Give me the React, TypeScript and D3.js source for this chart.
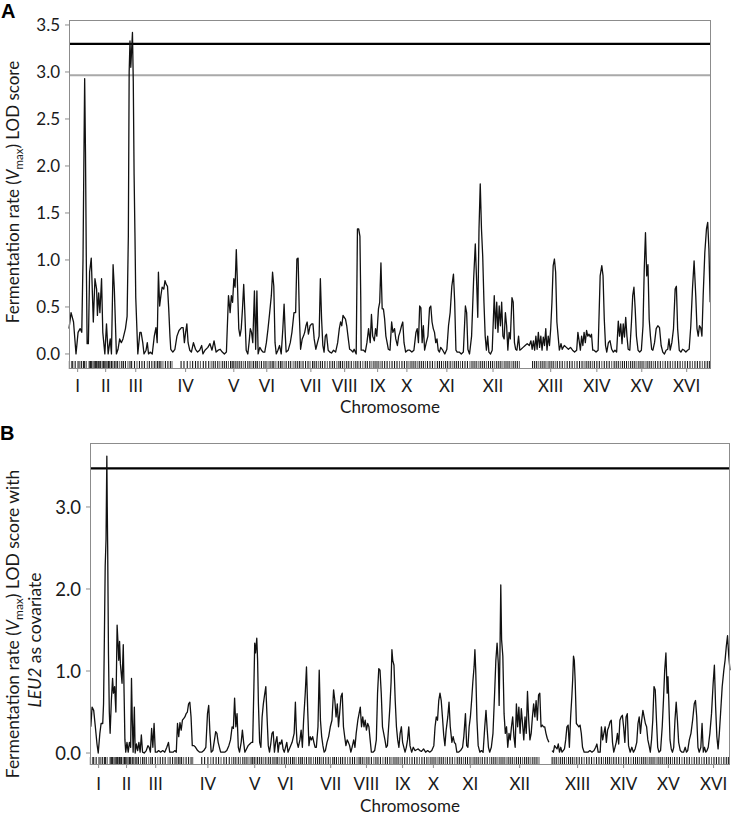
import React from 'react';
import * as d3 from 'd3';

const chromosomes = ['I', 'II', 'III', 'IV', 'V', 'VI', 'VII', 'VIII', 'IX', 'X', 'XI', 'XII', 'XIII', 'XIV', 'XV', 'XVI'];
// chromosome label positions on the genome map axis (map units)
const chromTicksA = [24, 92, 165, 286, 403, 483, 590, 672, 752, 823, 920, 1032, 1172, 1284, 1393, 1502];
const chromTicksB = [24, 92, 163, 290, 404, 479, 589, 676, 764, 839, 929, 1049, 1190, 1302, 1411, 1521];

const yTicksA = [0, 0.5, 1.0, 1.5, 2.0, 2.5, 3.0, 3.5];
const yTicksB = [0, 1, 2, 3];

const thresholdA999 = 3.30;
const thresholdA95 = 2.965;
const thresholdB = 3.47;

// genotyped marker positions (rug)
const markers = [4, 9, 12, 18, 25, 29, 33, 38, 41, 45, 52, 55, 58, 61, 64, 67, 70, 72, 75, 78, 80, 84, 87, 90, 93, 96, 99, 102, 106, 109, 113, 117, 121, 126, 131, 135, 140, 146, 151, 155, 162, 168, 174, 180, 186, 193, 198, 204, 210, 214, 218, 222, 226, 231, 237, 243, 249, 253, 275, 282, 290, 297, 303, 310, 316, 322, 329, 335, 342, 348, 353, 358, 364, 369, 375, 380, 385, 390, 395, 399, 403, 407, 411, 416, 421, 426, 431, 437, 442, 447, 451, 456, 460, 465, 470, 476, 481, 486, 491, 496, 500, 505, 511, 516, 520, 525, 530, 536, 541, 547, 552, 557, 562, 566, 571, 577, 583, 588, 594, 598, 603, 608, 613, 618, 624, 630, 636, 642, 647, 653, 658, 662, 667, 672, 677, 682, 688, 694, 699, 704, 710, 716, 722, 727, 733, 738, 743, 748, 753, 758, 763, 769, 775, 781, 787, 793, 799, 805, 811, 817, 823, 828, 833, 838, 843, 848, 853, 858, 863, 868, 873, 879, 885, 891, 897, 902, 907, 912, 917, 922, 928, 933, 938, 943, 948, 953, 958, 964, 970, 976, 981, 986, 991, 996, 1001, 1006, 1011, 1016, 1021, 1026, 1031, 1036, 1041, 1046, 1051, 1056, 1061, 1066, 1071, 1076, 1081, 1086, 1091, 1096, 1128, 1133, 1138, 1143, 1148, 1153, 1158, 1163, 1168, 1173, 1178, 1183, 1188, 1194, 1200, 1206, 1212, 1218, 1224, 1230, 1236, 1242, 1248, 1253, 1258, 1263, 1268, 1273, 1278, 1284, 1290, 1296, 1302, 1308, 1314, 1320, 1326, 1331, 1336, 1341, 1346, 1351, 1356, 1361, 1366, 1371, 1376, 1381, 1386, 1391, 1396, 1401, 1406, 1411, 1416, 1421, 1426, 1432, 1438, 1444, 1450, 1456, 1462, 1468, 1474, 1480, 1486, 1492, 1498, 1504, 1510, 1516, 1522, 1528, 1534, 1540, 1546, 1552, 1557];

// Panel A: LOD score for fermentation rate (Vmax) along the genome
const lodA: [number, number][] = [[3,0.27],[8,0.44],[14,0.34],[20,0.0],[25,0.23],[30,0.27],[34,0.23],[37,1.0],[39,2.0],[41,2.93],[43,2.15],[45,1.0],[47,0.11],[50,0.11],[53,0.87],[57,1.02],[62,0.34],[66,0.80],[70,0.69],[72,0.41],[75,0.65],[78,0.44],[82,0.80],[85,0.23],[90,0.0],[94,0.32],[98,0.0],[103,0.16],[106,0.0],[110,0.95],[113,0.69],[118,0.0],[122,0.05],[126,0.16],[130,0.12],[134,0.16],[140,0.27],[144,0.4],[147,1.25],[149,3.0],[151,3.33],[153,3.05],[157,3.42],[159,2.9],[161,1.9],[163,1.29],[165,0.6],[170,0.0],[175,0.23],[178,0.23],[182,0.12],[185,0.0],[190,0.04],[193,0.12],[196,0.0],[200,0.02],[205,0.0],[210,0.19],[214,0.28],[217,0.12],[220,0.87],[223,0.51],[226,0.62],[229,0.71],[233,0.69],[236,0.78],[239,0.74],[242,0.72],[245,0.48],[248,0.19],[250,0.05],[255,0.02],[260,0.05],[265,0.19],[270,0.25],[276,0.28],[280,0.28],[283,0.12],[286,0.23],[289,0.32],[292,0.12],[296,0.04],[300,0.02],[305,0.12],[310,0.05],[315,0.02],[320,0.04],[325,0.09],[328,0.0],[333,0.04],[340,0.07],[345,0.11],[350,0.04],[355,0.14],[360,0.02],[365,0.04],[370,0.05],[375,0.02],[380,0.0],[385,0.02],[390,0.62],[394,0.44],[397,0.62],[400,0.55],[403,0.80],[406,0.71],[409,1.11],[412,0.72],[415,0.27],[418,0.19],[421,0.27],[424,0.48],[427,0.74],[430,0.41],[433,0.04],[437,0.0],[440,0.12],[443,0.27],[446,0.23],[449,0.12],[453,0.67],[456,0.05],[459,0.67],[462,0.0],[466,0.07],[470,0.04],[474,0.02],[478,0.02],[482,0.12],[486,0.27],[490,0.44],[494,0.62],[497,0.87],[500,0.72],[503,0.12],[506,0.0],[510,0.04],[514,0.09],[518,0.0],[522,0.27],[525,0.53],[528,0.19],[530,0.02],[535,0.04],[540,0.12],[544,0.23],[549,0.44],[553,0.44],[556,1.01],[559,1.02],[562,0.41],[565,0.05],[569,0.16],[572,0.19],[575,0.23],[578,0.30],[581,0.34],[584,0.21],[588,0.30],[592,0.32],[595,0.32],[598,0.16],[602,0.05],[606,0.12],[610,0.19],[613,0.80],[616,0.37],[619,0.09],[622,0.02],[625,0.19],[628,0.21],[632,0.04],[636,0.02],[640,0.01],[645,0.04],[650,0.02],[655,0.12],[659,0.27],[662,0.34],[665,0.30],[668,0.41],[671,0.39],[674,0.37],[677,0.30],[680,0.19],[684,0.05],[688,0.04],[692,0.02],[695,0.05],[700,0.0],[703,1.33],[706,1.33],[709,1.25],[711,0.6],[712,0.04],[718,0.04],[722,0.02],[726,0.12],[730,0.27],[734,0.12],[737,0.42],[740,0.19],[744,0.14],[747,0.27],[750,0.19],[754,0.48],[757,0.55],[760,0.97],[763,0.48],[766,0.48],[769,0.37],[772,0.19],[775,0.12],[778,0.05],[782,0.04],[786,0.34],[789,0.23],[793,0.27],[796,0.16],[800,0.09],[803,0.19],[806,0.23],[810,0.30],[813,0.34],[816,0.12],[820,0.02],[825,0.04],[830,0.04],[835,0.02],[840,0.04],[845,0.23],[848,0.27],[851,0.12],[854,0.51],[857,0.49],[860,0.12],[863,0.30],[866,0.04],[870,0.12],[874,0.19],[878,0.49],[881,0.51],[884,0.34],[887,0.27],[890,0.23],[893,0.12],[896,0.16],[899,0.04],[902,0.02],[905,0.07],[910,0.04],[915,0.0],[920,0.05],[924,0.30],[928,0.44],[932,0.72],[936,0.85],[939,0.55],[942,0.04],[945,0.02],[950,0.02],[955,0.0],[960,0.02],[965,0.51],[968,0.44],[971,0.05],[975,0.0],[980,0.19],[985,0.80],[989,1.17],[992,0.80],[995,0.39],[998,1.33],[1001,1.81],[1004,1.33],[1007,1.04],[1010,0.55],[1013,0.19],[1016,0.04],[1019,0.19],[1022,0.02],[1026,0.0],[1030,0.04],[1035,0.62],[1038,0.27],[1041,0.55],[1044,0.23],[1047,0.51],[1050,0.30],[1053,0.55],[1056,0.19],[1059,0.16],[1062,0.44],[1065,0.30],[1068,0.04],[1071,0.23],[1074,0.16],[1078,0.60],[1081,0.55],[1084,0.12],[1087,0.05],[1090,0.04],[1094,0.19],[1097,0.04],[1100,0.05],[1105,0.07],[1110,0.09],[1115,0.11],[1120,0.09],[1124,0.14],[1127,0.05],[1130,0.14],[1133,0.04],[1136,0.19],[1139,0.05],[1142,0.23],[1145,0.07],[1148,0.19],[1151,0.04],[1154,0.18],[1157,0.09],[1160,0.27],[1163,0.04],[1166,0.19],[1169,0.09],[1172,0.27],[1175,0.55],[1178,0.94],[1181,1.01],[1184,0.87],[1187,0.34],[1190,0.19],[1193,0.04],[1197,0.11],[1200,0.05],[1205,0.09],[1210,0.07],[1215,0.05],[1220,0.07],[1225,0.04],[1230,0.02],[1235,0.04],[1238,0.23],[1241,0.14],[1244,0.04],[1247,0.19],[1250,0.09],[1253,0.23],[1256,0.12],[1259,0.25],[1262,0.19],[1265,0.21],[1268,0.18],[1271,0.21],[1274,0.04],[1277,0.04],[1282,0.02],[1287,0.04],[1292,0.83],[1296,0.94],[1299,0.83],[1302,0.37],[1305,0.09],[1308,0.02],[1312,0.12],[1316,0.14],[1320,0.05],[1324,0.02],[1328,0.04],[1332,0.02],[1336,0.35],[1339,0.19],[1342,0.32],[1345,0.11],[1348,0.32],[1351,0.18],[1354,0.39],[1357,0.19],[1360,0.05],[1364,0.04],[1368,0.34],[1371,0.62],[1374,0.71],[1377,0.48],[1380,0.19],[1384,0.04],[1388,0.02],[1392,0.04],[1396,0.30],[1399,0.90],[1402,1.29],[1405,0.83],[1408,0.95],[1411,0.37],[1414,0.19],[1417,0.05],[1420,0.04],[1424,0.12],[1428,0.27],[1432,0.30],[1436,0.28],[1440,0.09],[1444,0.02],[1448,0.0],[1452,0.04],[1456,0.05],[1459,0.16],[1462,0.04],[1466,0.12],[1470,0.27],[1474,0.69],[1477,0.72],[1480,0.27],[1484,0.04],[1488,0.02],[1492,0.05],[1496,0.04],[1500,0.02],[1504,0.04],[1508,0.05],[1512,0.30],[1516,0.69],[1520,0.99],[1524,0.62],[1527,0.27],[1530,0.19],[1533,0.30],[1536,0.28],[1539,0.19],[1542,0.62],[1546,1.08],[1550,1.33],[1553,1.40],[1556,1.11],[1559,0.55]];

// Panel B: LOD score with LEU2 as covariate (null = no data)
const lodB: [number, number | null][] = [[5,0.32],[8,0.56],[12,0.52],[16,0.32],[20,0.11],[23,0.0],[27,0.24],[30,0.36],[34,0.36],[36,0.6],[38,1.4],[40,2.28],[42,2.6],[44,3.62],[45,3.0],[46,2.52],[48,1.2],[50,0.5],[52,0.24],[55,0.64],[58,0.91],[60,0.73],[63,0.81],[66,0.5],[69,1.56],[71,1.36],[73,1.13],[75,1.36],[77,1.09],[79,0.97],[81,0.85],[84,1.32],[86,0.73],[88,0.16],[90,0.01],[93,0.13],[96,0.01],[99,0.13],[102,0.07],[104,0.91],[106,0.4],[108,0.01],[111,0.56],[113,0.0],[116,0.11],[119,0.03],[122,0.13],[125,0.01],[128,0.22],[131,0.01],[135,0.0],[140,0.03],[144,0.09],[147,0.07],[150,0.01],[153,0.30],[156,0.07],[159,0.36],[162,0.01],[166,0.01],[170,0.03],[175,0.01],[180,0.03],[185,0.01],[190,0.07],[194,0.13],[197,0.01],[200,0.01],[205,0.01],[210,0.03],[213,0.01],[216,0.36],[219,0.2],[222,0.37],[225,0.28],[228,0.40],[231,0.42],[234,0.44],[237,0.48],[240,0.5],[243,0.6],[246,0.62],[249,0.44],[252,0.09],[256,0.09],[260,0.07],[265,0.03],[270,0.01],[275,0.01],[280,0.03],[285,0.07],[289,0.48],[292,0.58],[295,0.24],[298,0.01],[302,0.03],[306,0.16],[309,0.26],[312,0.24],[315,0.13],[318,0.07],[321,0.01],[326,0.01],[331,0.01],[336,0.03],[341,0.09],[345,0.16],[349,0.32],[352,0.30],[355,0.67],[358,0.32],[361,0.48],[364,0.07],[367,0.01],[371,0.13],[374,0.28],[377,0.13],[380,0.01],[384,0.05],[388,0.09],[392,0.11],[396,0.13],[399,0.13],[402,0.81],[404,1.34],[406,1.22],[409,1.40],[411,1.13],[413,0.6],[416,0.13],[419,0.07],[422,0.44],[425,0.6],[428,0.71],[431,0.81],[434,0.44],[437,0.09],[440,0.01],[443,0.11],[446,0.24],[449,0.26],[452,0.01],[455,0.13],[458,0.2],[461,0.01],[464,0.13],[467,0.11],[470,0.16],[473,0.05],[476,0.01],[479,0.07],[482,0.13],[485,0.01],[490,0.07],[495,0.13],[500,0.24],[503,0.62],[505,0.32],[507,0.13],[510,0.07],[514,0.16],[517,0.28],[520,0.07],[523,0.40],[527,0.73],[530,1.05],[533,0.52],[536,0.09],[539,0.2],[542,0.16],[545,0.2],[548,0.13],[551,0.07],[554,0.07],[558,0.32],[561,1.01],[564,0.40],[567,0.2],[570,0.09],[573,0.01],[576,0.03],[580,0.13],[584,0.2],[588,0.32],[592,0.40],[596,0.77],[599,0.64],[602,0.44],[605,0.60],[608,0.32],[611,0.5],[614,0.69],[617,0.73],[620,0.32],[623,0.2],[626,0.09],[629,0.16],[632,0.13],[635,0.09],[638,0.01],[641,0.07],[645,0.16],[648,0.07],[651,0.24],[655,0.40],[658,0.48],[661,0.56],[664,0.32],[667,0.44],[670,0.32],[673,0.40],[676,0.28],[679,0.36],[682,0.32],[685,0.16],[688,0.01],[692,0.01],[696,0.03],[700,0.16],[703,0.73],[706,1.03],[709,1.01],[712,0.73],[715,0.32],[718,0.24],[721,0.16],[724,0.07],[727,0.09],[730,0.32],[733,0.56],[736,0.87],[738,1.26],[740,1.13],[743,1.07],[746,0.64],[749,0.32],[752,0.16],[755,0.07],[758,0.24],[761,0.32],[764,0.13],[767,0.07],[770,0.01],[773,0.07],[776,0.16],[779,0.32],[782,0.09],[786,0.01],[790,0.07],[794,0.03],[798,0.04],[802,0.05],[806,0.03],[810,0.02],[815,0.05],[820,0.01],[825,0.03],[830,0.01],[835,0.03],[840,0.09],[843,0.32],[846,0.44],[849,0.40],[852,0.64],[855,0.73],[858,0.64],[861,0.44],[864,0.22],[867,0.09],[870,0.28],[874,0.44],[877,0.62],[880,0.32],[884,0.13],[887,0.2],[890,0.13],[893,0.11],[896,0.01],[900,0.01],[905,0.03],[910,0.07],[913,0.2],[917,0.48],[920,0.09],[923,0.07],[926,0.32],[929,0.44],[932,0.64],[935,0.87],[938,1.05],[940,1.26],[942,1.01],[945,0.40],[948,0.09],[952,0.01],[956,0.03],[960,0.01],[964,0.32],[967,0.52],[970,0.28],[973,0.07],[976,0.01],[980,0.07],[984,0.24],[988,0.73],[991,1.13],[994,1.34],[997,1.09],[999,0.58],[1001,1.22],[1003,2.05],[1005,1.38],[1008,1.18],[1011,0.48],[1014,0.24],[1017,0.32],[1020,0.07],[1023,0.24],[1026,0.16],[1029,0.32],[1032,0.44],[1035,0.2],[1038,0.07],[1041,0.6],[1044,0.32],[1047,0.56],[1050,0.24],[1053,0.54],[1056,0.36],[1059,0.16],[1062,0.44],[1065,0.24],[1068,0.75],[1071,0.40],[1074,0.16],[1077,0.24],[1080,0.44],[1083,0.6],[1086,0.44],[1089,0.64],[1092,0.40],[1095,0.71],[1098,0.73],[1101,0.32],[1104,0.34],[1107,0.32],[1110,0.32],[1113,0.24],[1116,0.18],[1120,0.13],[1124,null],[1128,0.03],[1131,0.01],[1134,0.09],[1137,0.07],[1140,0.05],[1143,0.11],[1146,0.01],[1149,0.07],[1152,0.01],[1155,0.03],[1158,0.05],[1161,0.16],[1164,0.32],[1167,0.34],[1170,0.07],[1173,0.44],[1176,0.69],[1178,0.89],[1180,1.18],[1182,1.13],[1184,0.89],[1187,0.36],[1190,0.34],[1193,0.32],[1196,0.34],[1199,0.24],[1202,0.07],[1206,0.01],[1210,0.01],[1215,0.01],[1220,0.03],[1225,0.01],[1230,0.03],[1234,0.07],[1237,0.11],[1240,0.01],[1245,0.01],[1248,0.32],[1251,0.16],[1254,0.24],[1257,0.32],[1260,0.13],[1263,0.28],[1266,0.32],[1269,0.38],[1272,0.40],[1275,0.13],[1278,0.01],[1281,0.07],[1284,0.13],[1287,0.24],[1290,0.11],[1293,0.40],[1296,0.44],[1299,0.46],[1302,0.32],[1305,0.13],[1308,0.44],[1311,0.48],[1314,0.09],[1318,0.01],[1322,0.07],[1326,0.01],[1330,0.05],[1334,0.13],[1337,0.36],[1340,0.44],[1343,0.24],[1346,0.40],[1349,0.52],[1352,0.44],[1355,0.36],[1358,0.32],[1361,0.16],[1364,0.09],[1367,0.01],[1370,0.16],[1373,0.40],[1376,0.81],[1379,0.77],[1382,0.40],[1385,0.07],[1388,0.01],[1392,0.03],[1396,0.32],[1399,0.64],[1402,1.01],[1405,1.22],[1408,0.73],[1410,0.93],[1412,0.64],[1415,0.16],[1418,0.05],[1421,0.01],[1424,0.07],[1427,0.40],[1430,0.62],[1433,0.40],[1436,0.13],[1440,0.03],[1444,0.01],[1448,0.01],[1452,0.07],[1455,0.01],[1458,0.03],[1462,0.16],[1466,0.24],[1470,0.40],[1474,0.60],[1477,0.64],[1480,0.44],[1483,0.07],[1486,0.01],[1490,0.07],[1493,0.36],[1496,0.01],[1499,0.07],[1502,0.01],[1505,0.03],[1508,0.07],[1512,0.24],[1516,0.48],[1520,0.85],[1523,1.07],[1526,0.56],[1529,0.2],[1532,0.05],[1535,0.24],[1538,0.48],[1542,0.81],[1546,1.01],[1549,1.13],[1552,1.30],[1555,1.43],[1558,1.18],[1561,1.01]];

const FONT = 'Lato, "Open Sans", sans-serif';
const TEXT = '#1a1a1a';
const FRAME = '#8c8c8c';

type PanelProps = {
  data: [number, number | null][];
  left: number; right: number; top: number; bottom: number;
  yMin: number; yMax: number;
  yTicks: number[]; tickFmt: (v: number) => string; tickFont: number;
  chromTicks: number[];
  thresholds: { value: number; color: string }[];
  labelY: number; titleY: number;
};

function Panel(p: PanelProps) {
  const x = d3.scaleLinear().domain([3, 1561]).range([p.left, p.right]);
  const y = d3.scaleLinear().domain([p.yMin, p.yMax]).range([p.bottom, p.top]);
  const line = d3.line<[number, number | null]>()
    .defined(d => d[1] !== null)
    .x(d => x(d[0]))
    .y(d => y(d[1] as number));
  const rugTop = p.bottom - 8;
  return (
    <g>
      {p.thresholds.map((t, i) => (
        <line key={'t' + i} x1={p.left} x2={p.right} y1={y(t.value)} y2={y(t.value)} stroke={t.color} strokeWidth={2.2} />
      ))}
      {markers.map((m, i) => (
        <line key={'m' + i} x1={x(m)} x2={x(m)} y1={rugTop} y2={p.bottom} stroke={i % 4 === 1 ? '#666' : '#1a1a1a'} strokeWidth={1.1} />
      ))}
      <path d={line(p.data) || ''} fill="none" stroke="#111" strokeWidth={1.3} strokeLinejoin="round" />
      <rect x={p.left + 0.5} y={p.top + 0.5} width={p.right - p.left - 1} height={p.bottom - p.top - 1} fill="none" stroke={FRAME} strokeWidth={1} />
      {p.yTicks.map((t, i) => (
        <g key={'y' + i}>
          <line x1={p.left - 4} x2={p.left} y1={y(t)} y2={y(t)} stroke={FRAME} />
          <text x={p.left - 9} y={y(t)} dy="0.36em" textAnchor="end" fontSize={p.tickFont} fontFamily={FONT} fill={TEXT}>{p.tickFmt(t)}</text>
        </g>
      ))}
      {p.chromTicks.map((c, i) => (
        <g key={'c' + i}>
          <line x1={x(c)} x2={x(c)} y1={p.bottom} y2={p.bottom + 3} stroke={FRAME} />
          <text x={x(c)} y={p.labelY} textAnchor="middle" fontSize={17} fontFamily={FONT} fill={TEXT}>{chromosomes[i]}</text>
        </g>
      ))}
      <text x={(p.left + p.right) / 2} y={p.titleY} textAnchor="middle" fontSize={17} fontFamily={FONT} fill={TEXT}>Chromosome</text>
    </g>
  );
}

export default function App() {
  const fmt1 = d3.format('.1f');
  return (
    <svg width={734} height={816} style={{ position: 'absolute', left: 0, top: 0, background: '#fff' }}>
      <rect x={0} y={0} width={734} height={816} fill="#fff" />
      <text x={1} y={18} fontSize={20} fontWeight="bold" fontFamily='"Liberation Sans", Arial, sans-serif' fill="#000">A</text>
      <Panel data={lodA} left={69} right={711} top={20} bottom={369} yMin={-0.16} yMax={3.553}
        yTicks={yTicksA} tickFmt={fmt1} tickFont={17} chromTicks={chromTicksA}
        thresholds={[{ value: thresholdA999, color: '#000' }, { value: thresholdA95, color: '#a9a9a9' }]}
        labelY={392} titleY={413} />
      <text transform="translate(19,192) rotate(-90)" textAnchor="middle" fontSize={17} fontFamily={FONT} fill={TEXT}>
        Fermentation rate (<tspan fontStyle="italic">V</tspan><tspan dy="4" fontSize={11.5}>max</tspan><tspan dy="-4">) LOD score</tspan>
      </text>

      <text x={0} y={440} fontSize={20} fontWeight="bold" fontFamily='"Liberation Sans", Arial, sans-serif' fill="#000">B</text>
      <Panel data={lodB} left={90} right={730} top={443} bottom={765} yMin={-0.146} yMax={3.78}
        yTicks={yTicksB} tickFmt={fmt1} tickFont={18.5} chromTicks={chromTicksB}
        thresholds={[{ value: thresholdB, color: '#000' }]}
        labelY={790} titleY={812} />
      <text transform="translate(19,624) rotate(-90)" textAnchor="middle" fontSize={17.5} fontFamily={FONT} fill={TEXT}>
        Fermentation rate (<tspan fontStyle="italic">V</tspan><tspan dy="4" fontSize={12}>max</tspan><tspan dy="-4">) LOD score with</tspan>
      </text>
      <text transform="translate(41,640) rotate(-90)" textAnchor="middle" fontSize={17.5} fontFamily={FONT} fill={TEXT}>
        <tspan fontStyle="italic">LEU2</tspan> as covariate
      </text>
    </svg>
  );
}
